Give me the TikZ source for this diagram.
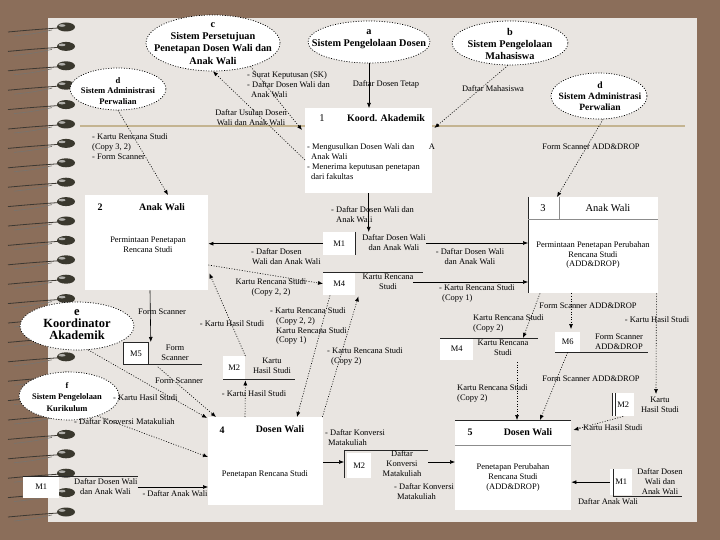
\documentclass[tikz,border=0pt]{standalone}
\usepackage{fontspec}
\setmainfont{Liberation Serif}
\usetikzlibrary{shapes.geometric,arrows.meta,calc}
\definecolor{brownbg}{RGB}{139,110,90}
\definecolor{paper}{RGB}{233,229,225}
\definecolor{tanline}{RGB}{196,180,145}
\definecolor{bead}{RGB}{58,56,46}
\definecolor{wire}{RGB}{60,56,50}
\begin{document}
\begin{tikzpicture}[x=1bp,y=-1bp,
  flow/.style={draw=black, line width=0.6bp, -{Latex[length=5bp,width=4bp]}},
  dflow/.style={flow, dash pattern=on 1bp off 1.6bp},
  ent/.style={ellipse, draw=black, line width=0.7bp, dash pattern=on 1bp off 1.6bp, fill=white, inner sep=0pt},
  etext/.style={align=center, inner sep=0pt, font=\bfseries\fontsize{10.3}{12.3}\selectfont},
  proc/.style={rectangle, fill=white, inner sep=0pt, anchor=north west},
  dsbox/.style={rectangle, fill=white, inner sep=0pt, anchor=north west, font=\fontsize{8.5}{10}\selectfont},
  dsline/.style={draw=black!85, line width=0.8bp},
  hdrline/.style={draw=black!45, line width=0.7bp},
  lbl/.style={align=center, inner sep=0pt, font=\fontsize{8.5}{10}\selectfont},
  lbll/.style={lbl, align=left, anchor=west},
  hdr/.style={inner sep=0pt, font=\bfseries\fontsize{10}{12}\selectfont},
  hdrn/.style={inner sep=0pt, font=\fontsize{10.5}{12}\selectfont}
]
\useasboundingbox (0,0) rectangle (720,540);
\fill[brownbg] (0,0) rectangle (720,540);
\fill[paper] (48,18) rectangle (697,522);
\draw[tanline, line width=1.2bp] (80,126) -- (685,126);
% spiral rings
\foreach \i in {0,...,25}{
  \pgfmathsetmacro{\yy}{27+19.4*\i}
  \draw[wire, line width=0.8bp] (8,\yy+5) .. controls (30,\yy+3) .. (58,\yy+1);
  \draw[wire!70, line width=0.6bp] (14,\yy+9) .. controls (32,\yy+7) .. (52,\yy+3);
  \fill[bead] (66,\yy) ellipse [x radius=9, y radius=4.5];
  \fill[bead!40!white] (62,\yy-1.5) ellipse [x radius=3.5, y radius=1.3];
}
% external entities
\node[ent, minimum width=134bp, minimum height=56bp] (c) at (213,43) {};
\node[etext] (ct) at (213,43.5) {c\\Sistem Persetujuan\\Penetapan Dosen Wali dan\\Anak Wali};
\node[ent, minimum width=122bp, minimum height=42bp] (a) at (369,42) {};
\node[etext] (at) at (369,39) {a\\Sistem Pengelolaan Dosen};
\node[ent, minimum width=116bp, minimum height=44bp] (b) at (510,43) {};
\node[etext] (bt) at (510,44) {b\\Sistem Pengelolaan\\Mahasiswa};
\node[ent, minimum width=96bp, minimum height=42bp] (dL) at (118,89) {};
\node[etext, font=\bfseries\fontsize{8.6}{10.3}\selectfont] (dLt) at (118,91) {d\\Sistem Administrasi\\Perwalian};
\node[ent, minimum width=96bp, minimum height=46bp] (dR) at (599,96) {};
\node[etext, font=\bfseries\fontsize{9.6}{11}\selectfont] (dRt) at (600,96) {d\\Sistem Administrasi\\Perwalian};
\node[ent, minimum width=114bp, minimum height=48bp] (e) at (77,326) {};
\node[etext, font=\bfseries\fontsize{12.5}{12}\selectfont] (et) at (77,325) {e\\Koordinator\\Akademik};
\node[ent, minimum width=100bp, minimum height=48bp] (f) at (69,396) {};
\node[etext, font=\bfseries\fontsize{8.5}{11.5}\selectfont] (ft) at (67,397) {f\\Sistem Pengelolaan\\Kurikulum};
% processes
\node[proc, minimum width=127bp, minimum height=85bp] (p1) at (305,108) {};
\node[hdrn] (p1n) at (322,118) {1};
\node[hdr] (p1t) at (386,118) {Koord. Akademik};
\node[lbll] (p1c) at (307,162) {- Mengusulkan Dosen Wali dan\\\hspace{4bp}Anak Wali\\- Menerima keputusan penetapan\\\hspace{4bp}dari fakultas};
\node[lbl] (p1a) at (432,147) {A};

\node[proc, minimum width=123bp, minimum height=95bp] (p2) at (85,195) {};
\node[hdr] (p2n) at (100,207) {2};
\node[hdr] (p2t) at (162,207) {Anak Wali};
\node[lbl] (p2c) at (148,245) {Permintaan Penetapan\\Rencana Studi};

\node[proc, minimum width=130bp, minimum height=96bp] (p3) at (528,197) {};
\draw[dsline] (p3.north west) -- (p3.south west);
\draw[hdrline] ($(p3.north west)+(31,0)$) -- ($(p3.north west)+(31,22)$);
\draw[hdrline] ($(p3.north west)+(0,22)$) -- ($(p3.north east)+(0,22)$);
\node[hdrn] (p3n) at (543,208) {3};
\node[hdrn] (p3t) at (608,208) {Anak Wali};
\node[lbl] (p3c) at (593,255) {Permintaan Penetapan Perubahan\\Rencana Studi\\(ADD\&DROP)};

\node[proc, minimum width=115bp, minimum height=88bp] (p4) at (208,417) {};
\node[hdr] (p4n) at (222,430) {4};
\node[hdr] (p4t) at (280,429) {Dosen Wali};
\node[lbl] (p4c) at (265,474) {Penetapan Rencana Studi};

\node[proc, minimum width=116bp, minimum height=90bp] (p5) at (455,420) {};
\draw[dsline] (p5.north west) -- (p5.north east);
\draw[hdrline] ($(p5.north west)+(0,25)$) -- ($(p5.north east)+(0,25)$);
\node[hdr] (p5n) at (470,432) {5};
\node[hdr] (p5t) at (528,432) {Dosen Wali};
\node[lbl] (p5c) at (513,477) {Penetapan Perubahan\\Rencana Studi\\(ADD\&DROP)};
% data stores
\node[dsbox, minimum width=32bp, minimum height=23bp] (m1c) at (323,232) {M1};
\draw[dsline] (m1c.north east) -- (m1c.south east);
\node[lbl] (m1cl) at (394,243) {Daftar Dosen Wali\\dan Anak Wali};

\node[dsbox, minimum width=32bp, minimum height=23bp] (m4c) at (323,272) {M4};
\draw[dsline] (m4c.north west) -- ++(100,0);
\node[lbl] (m4cl) at (388,282) {Kartu Rencana\\Studi};

\node[dsbox, minimum width=33bp, minimum height=22bp] (m4r) at (440,338) {M4};
\draw[dsline] (m4r.north west) -- ++(98,0);
\node[lbl] (m4rl) at (503,348) {Kartu Rencana\\Studi};

\node[dsbox, minimum width=25bp, minimum height=20bp] (m6) at (555,332) {M6};
\draw[dsline] (m6.south west) -- ++(93,0);
\node[lbl] (m6l) at (619,342) {Form Scanner\\ADD\&DROP};

\node[dsbox, draw=black!85, line width=0.8bp, minimum width=25bp, minimum height=22bp] (m5) at (123,342) {M5};
\draw[dsline] (m5.south east) -- ++(53,0);
\node[lbl] (m5l) at (175,353) {Form\\Scanner};

\node[dsbox, minimum width=22bp, minimum height=23bp] (m2c) at (223,356) {M2};
\draw[dsline] (m2c.south west) -- ++(72,0);
\node[lbl] (m2cl) at (272,366) {Kartu\\Hasil Studi};

\coordinate (m2bL) at (344,450);
\node[dsbox, minimum width=24bp, minimum height=25bp] (m2b) at (347,453) {M2};
\draw[dsline] ($(m2bL)+(84,0)$) -- (m2bL) -- ++(0,28);
\node[lbl] (m2bl) at (402,464) {Daftar\\Konversi\\Matakuliah};

\node[dsbox, minimum width=36bp, minimum height=22bp] (m1bl) at (23,476) {M1};
\draw[dsline] (m1bl.north west) -- ++(115,0);
\node[lbll] (m1bll) at (74,487) {Daftar Dosen Wali\\\hspace{6bp}dan Anak Wali};

\node[dsbox, minimum width=22bp, minimum height=26bp] (m1br) at (610,469) {M1};
\draw[dsline] ($(m1br.north west)+(3,0)$) -- ($(m1br.south west)+(3,1)$) -- ++(69,0);
\node[lbl] (m1brl) at (660,482) {Daftar Dosen\\Wali dan\\Anak Wali};

\node[dsbox, minimum width=22bp, minimum height=23bp] (m2r) at (612,393) {M2};
\draw[dsline] (m2r.north west) -- (m2r.south west);
\draw[dsline] ($(m2r.north west)+(3,0)$) -- ($(m2r.south west)+(3,0)$);
\node[lbl] (m2rl) at (660,405) {Kartu\\Hasil Studi};
% connectors and labels
\draw[flow] (a.south) -- (a.south |- p1.north);
\node[lbl] (l1) at (386,84) {Daftar Dosen Tetap};
\draw[dflow] (b.265) -- ($(p1.north east)+(2,20)$);
\node[lbl] (l2) at (493,89) {Daftar Mahasiswa};
\draw[dflow] (c.-32) -- ($(p1.north west)+(-3,22)$);
\node[lbll] (l3) at (247,85) {- Surat Keputusan (SK)\\- Daftar Dosen Wali dan\\\hspace{4bp}Anak Wali};
\draw[dflow] ($(p1.north west)+(0,52)$) -- (c.south);
\node[lbl] (l4) at (251,118) {Daftar Usulan Dosen\\Wali dan Anak Wali};
\draw[dflow] (dL.south) -- ($(p2.north west)+(83,0)$);
\node[lbll] (l5) at (92,147) {- Kartu Rencana Studi\\(Copy 3, 2)\\- Form Scanner};
\draw[dflow] (dR.-80) -- ($(p3.north west)+(29,0)$);
\node[lbl] (l6) at (591,147) {Form Scanner ADD\&DROP};
\draw[flow] (p1.south) -- (p1.south |- m1c.north);
\node[lbll] (l7) at (331,215) {- Daftar Dosen Wali dan\\\hspace{5bp}Anak Wali};
\draw[flow] (m1c.west) -- (m1c.west -| p2.east);
\node[lbll] (l8) at (251,257) {- Daftar Dosen\\\hspace{1bp}Wali dan Anak Wali};
\draw[flow] (m1cl.east) -- (m1cl.east -| p3.west);
\node[lbl] (l9) at (470,257) {- Daftar Dosen Wali\\dan Anak Wali};
\draw[dflow] ($(p2.north east)+(0,70)$) -- (m4c.west);
\node[lbl] (l10) at (271,287) {Kartu Rencana Studi\\(Copy 2, 2)};
\draw[flow] (m4cl.east) -- (m4cl.east -| p3.west);
\node[lbll] (l11) at (439,293) {- Kartu Rencana Studi\\\hspace{3bp}(Copy 1)};
\draw[dflow] ($(p3.south west)+(12,0)$) -- ($(m4r.north west)+(83,0)$);
\node[lbll] (l12) at (473,323) {Kartu Rencana Studi\\(Copy 2)};
\draw[dflow] ($(p3.south west)+(43,0)$) -- ($(m6.north west)+(16,-3)$);
\node[lbl] (l13) at (588,306) {Form Scanner ADD\&DROP};
\draw[dflow] ($(p3.south east)+(-2,0)$) -- ($(m2rl.north)+(-4,-3)$);
\node[lbl] (l14) at (657,320) {- Kartu Hasil Studi};
\draw[dflow] (m6.south) -- ($(p5.north west)+(85,0)$);
\node[lbl] (l15) at (591,379) {Form Scanner ADD\&DROP};
\draw[dflow] ($(m4r.north west)+(77,24)$) -- ($(p5.north west)+(62,0)$);
\node[lbll] (l16) at (457,393) {Kartu Rencana Studi\\(Copy 2)};
\draw[dflow] (m2r.south) -- ($(p5.north east)+(2,10)$);
\node[lbll] (l17) at (578,428) {- Kartu Hasil Studi};
\draw[flow] (m1br.west) -- (m1br.west -| p5.east);
\node[lbl] (l18) at (608,502) {Daftar Anak Wali};
\draw[flow] (m1bll.east) -- (m1bll.east -| p4.west);
\node[lbl] (l19) at (175,494) {- Daftar Anak Wali};
\draw[dflow] (f.-35) -- ($(p4.north west)+(0,40)$);
\node[lbll] (l20) at (74,422) {- Daftar Konversi Matakuliah};
\draw[dflow] (e.-65) -- ($(p4.north west)+(-1,1)$);
\node[lbll] (l21) at (113,398) {- Kartu Hasil Studi};
\draw[flow] ($(p2.south west)+(65,0)$) -- ($(m5.north east)+(2,0)$);
\node[lbl] (l22) at (162,312) {Form Scanner};
\draw[dflow] ($(m5.south east)+(9,2)$) -- ($(p4.north west)+(8,0)$);
\node[lbl] (l23) at (179,381) {Form Scanner};
\draw[dflow] (m2c.north east) -- ($(p2.south east)+(1,-17)$);
\node[lbl] (l24) at (232,324) {- Kartu Hasil Studi};
\draw[dflow] ($(p4.north west)+(37,0)$) -- ($(m2c.south east)+(0,1)$);
\node[lbl] (l25) at (254,394) {- Kartu Hasil Studi};
\draw[dflow] ($(m4c.south west)+(7,0)$) -- ($(p4.north west)+(89,0)$);
\node[lbll] (l26) at (270,326) {- Kartu Rencana Studi\\\hspace{6bp}(Copy 2, 2)\\\hspace{6bp}Kartu Rencana Studi\\\hspace{6bp}(Copy 1)};
\draw[dflow] ($(p4.north east)+(-1,0)$) -- ($(m4c.south east)+(3,1)$);
\node[lbll] (l27) at (327,356) {- Kartu Rencana Studi\\\hspace{4bp}(Copy 2)};
\draw[flow] ($(p4.north east)+(0,45)$) -- ($(m2bL)+(0,12)$);
\node[lbll] (l28) at (325,438) {- Daftar Konversi\\\hspace{3bp}Matakuliah};
\draw[flow] ($(m2bL)+(84,12)$) -- ($(p5.north west)+(0,42)$);
\node[lbll] (l29) at (394,492) {- Daftar Konversi\\\hspace{3bp}Matakuliah};
\end{tikzpicture}
\end{document}
